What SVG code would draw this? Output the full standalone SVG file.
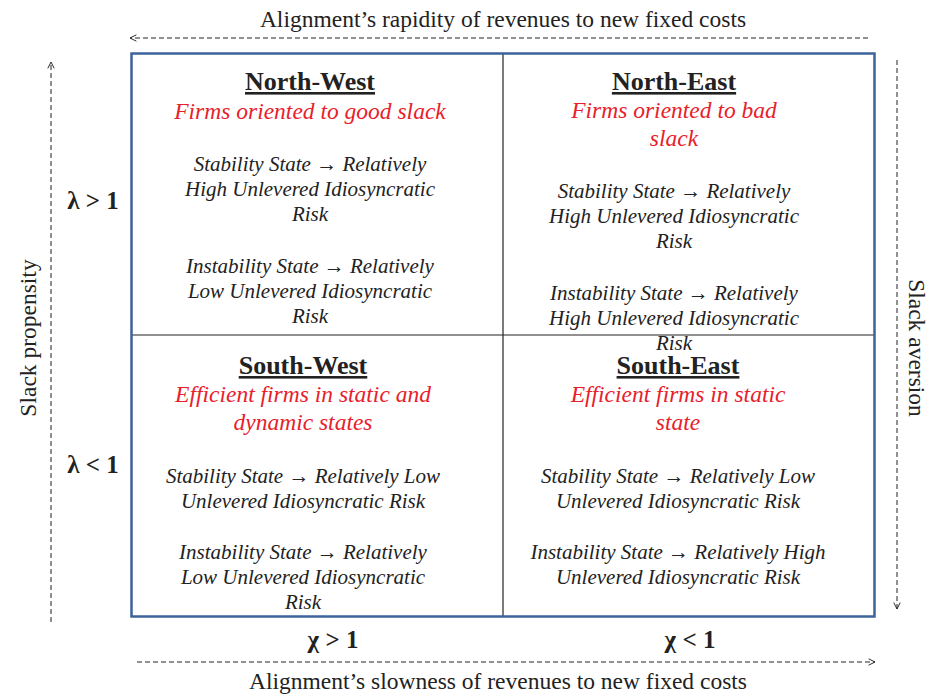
<svg xmlns="http://www.w3.org/2000/svg" width="929" height="694" viewBox="0 0 929 694">
<style>
text{font-family:"Liberation Serif","Times New Roman",serif;fill:#222;text-anchor:middle}
.t{font-size:26px;font-weight:bold;text-decoration:underline}
.r{font-size:23.5px;font-style:italic;fill:#e8202a}
.b{font-size:21px;font-style:italic}
.ax{font-size:23.5px}
.g{font-size:25px;font-weight:bold}
.d{stroke:#222;stroke-width:1;stroke-dasharray:5 3;fill:none}
</style>
<defs>
<marker id="ah" viewBox="0 0 10 10" refX="9" refY="5" markerWidth="8" markerHeight="8" markerUnits="userSpaceOnUse" orient="auto">
<polyline points="1,1 9,5 1,9" fill="none" stroke="#222" stroke-width="1.2"/>
</marker>
</defs>
<rect width="929" height="694" fill="#fff"/>
<g id="connectors">
<line class="d" x1="868" y1="38" x2="130" y2="38" marker-end="url(#ah)"/>
<line class="d" x1="137" y1="662" x2="875" y2="662" marker-end="url(#ah)"/>
<line class="d" x1="51" y1="622" x2="51" y2="62" marker-end="url(#ah)"/>
<line class="d" x1="897" y1="60" x2="897" y2="609" marker-end="url(#ah)"/>
</g>
<g id="grid">
<line x1="503" y1="54" x2="503" y2="616" stroke="#222" stroke-width="1.2"/>
<line x1="132" y1="335" x2="874" y2="335" stroke="#222" stroke-width="1.2"/>
<rect x="131.5" y="53.5" width="743" height="563" fill="none" stroke="#3d639c" stroke-width="2.5"/>
</g>
<g id="labels">
<text class="ax" x="503" y="27">Alignment’s rapidity of revenues to new fixed costs</text>
<text class="ax" x="498" y="689">Alignment’s slowness of revenues to new fixed costs</text>
<text class="ax" transform="translate(36,338) rotate(-90)">Slack propensity</text>
<text class="ax" transform="translate(909,348) rotate(90)">Slack aversion</text>
<text class="g" x="93" y="209">λ &gt; 1</text>
<text class="g" x="93" y="473">λ &lt; 1</text>
<text class="g" x="333" y="648">χ &gt; 1</text>
<text class="g" x="690" y="648">χ &lt; 1</text>
</g>
<g id="north-west">
<text class="t" x="310" y="90">North-West</text>
<text class="r" x="310" y="119">Firms oriented to good slack</text>
<text class="b" x="310" y="171">Stability State → Relatively</text>
<text class="b" x="310" y="196">High Unlevered Idiosyncratic</text>
<text class="b" x="310" y="221">Risk</text>
<text class="b" x="310" y="273">Instability State → Relatively</text>
<text class="b" x="310" y="298">Low Unlevered Idiosyncratic</text>
<text class="b" x="310" y="323">Risk</text>
</g>
<g id="north-east">
<text class="t" x="674" y="90">North-East</text>
<text class="r" x="674" y="118">Firms oriented to bad</text>
<text class="r" x="674" y="146">slack</text>
<text class="b" x="674" y="198">Stability State → Relatively</text>
<text class="b" x="674" y="223">High Unlevered Idiosyncratic</text>
<text class="b" x="674" y="248">Risk</text>
<text class="b" x="674" y="300">Instability State → Relatively</text>
<text class="b" x="674" y="325">High Unlevered Idiosyncratic</text>
<text class="b" x="674" y="350">Risk</text>
</g>
<g id="south-west">
<text class="t" x="303" y="374">South-West</text>
<text class="r" x="303" y="402">Efficient firms in static and</text>
<text class="r" x="303" y="430">dynamic states</text>
<text class="b" x="303" y="483">Stability State → Relatively Low</text>
<text class="b" x="303" y="508">Unlevered Idiosyncratic Risk</text>
<text class="b" x="303" y="559">Instability State → Relatively</text>
<text class="b" x="303" y="584">Low Unlevered Idiosyncratic</text>
<text class="b" x="303" y="609">Risk</text>
</g>
<g id="south-east">
<text class="t" x="678" y="374">South-East</text>
<text class="r" x="678" y="402">Efficient firms in static</text>
<text class="r" x="678" y="430">state</text>
<text class="b" x="678" y="483">Stability State → Relatively Low</text>
<text class="b" x="678" y="508">Unlevered Idiosyncratic Risk</text>
<text class="b" x="678" y="559">Instability State → Relatively High</text>
<text class="b" x="678" y="584">Unlevered Idiosyncratic Risk</text>
</g>
</svg>
